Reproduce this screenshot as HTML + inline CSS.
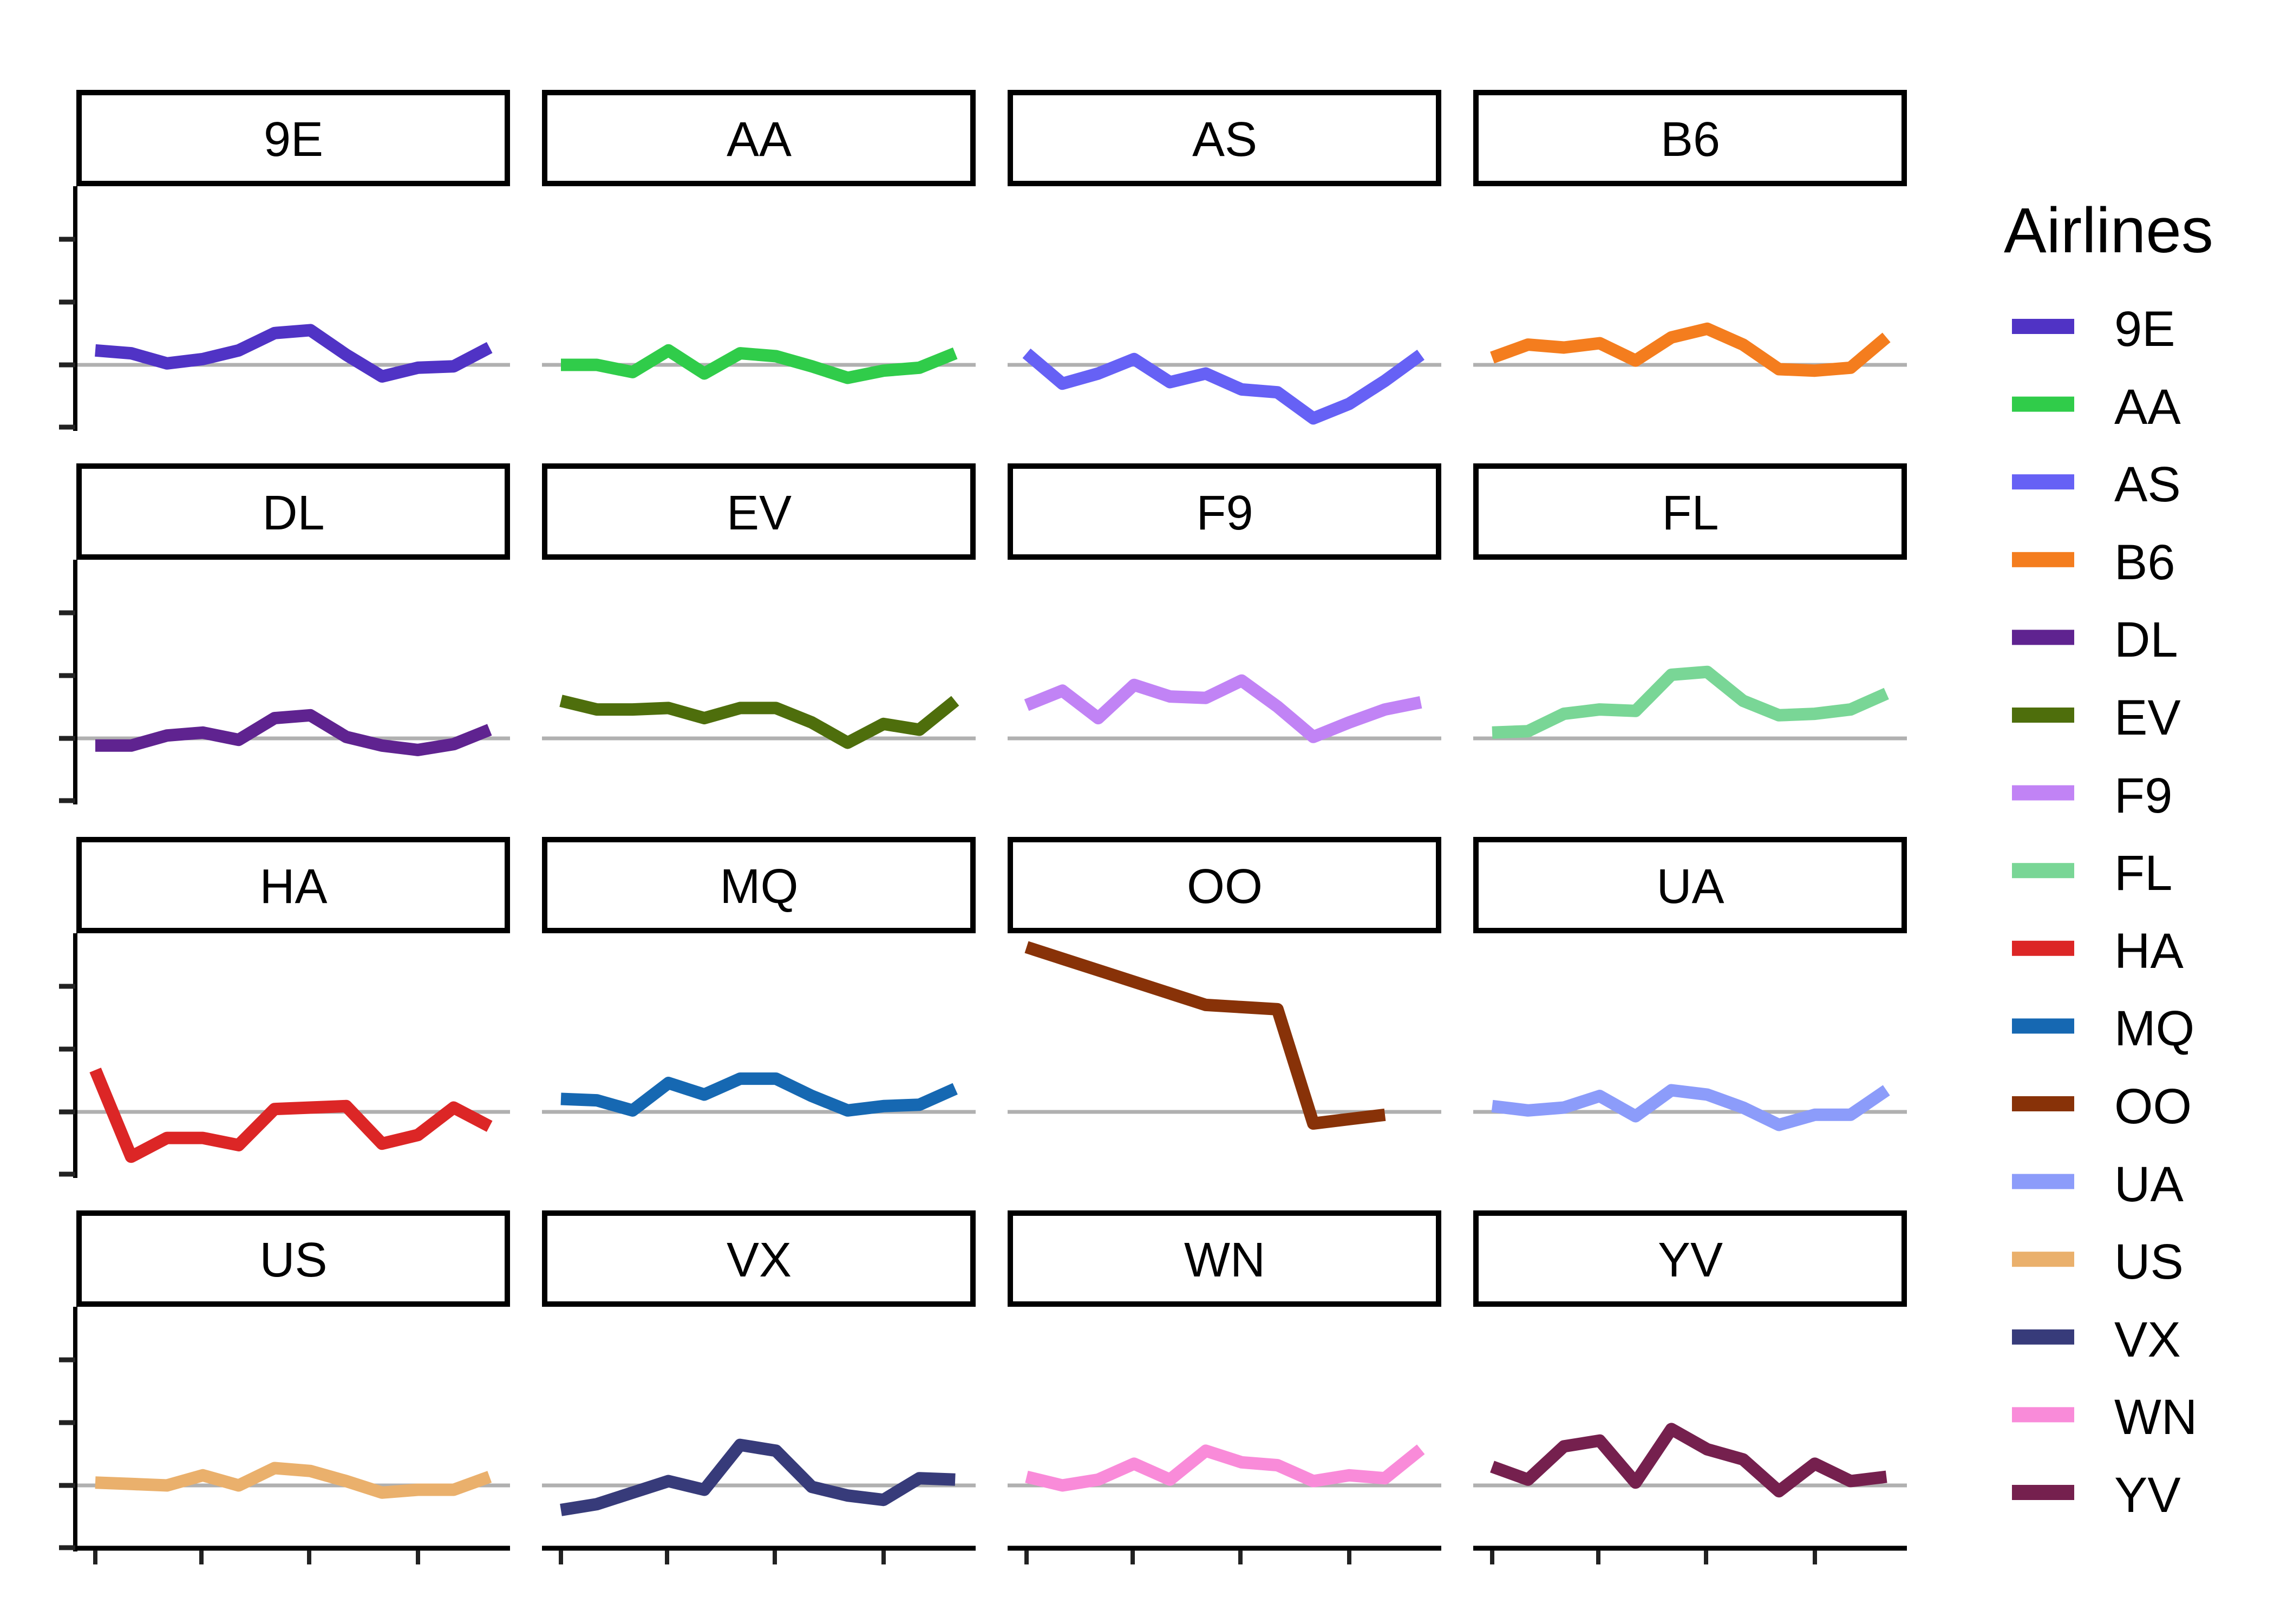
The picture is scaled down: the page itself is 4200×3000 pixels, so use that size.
<!DOCTYPE html>
<html><head><meta charset="utf-8"><style>html,body{margin:0;padding:0;background:#fff}svg{display:block}text{font-family:"Liberation Sans",Arial,sans-serif;fill:#000}</style></head>
<body>
<svg id="s" width="4200" height="3000" viewBox="0 0 4200 3000" xmlns="http://www.w3.org/2000/svg">
<rect width="4200" height="3000" fill="#fff"/>
<g id="g"></g>
<g font-size="90" text-anchor="middle">
<text x="542" y="288">9E</text><text x="1402" y="288">AA</text><text x="2262" y="288">AS</text><text x="3122" y="288">B6</text>
<text x="542" y="978">DL</text><text x="1402" y="978">EV</text><text x="2262" y="978">F9</text><text x="3122" y="978">FL</text>
<text x="542" y="1668">HA</text><text x="1402" y="1668">MQ</text><text x="2262" y="1668">OO</text><text x="3122" y="1668">UA</text>
<text x="542" y="2358">US</text><text x="1402" y="2358">VX</text><text x="2262" y="2358">WN</text><text x="3122" y="2358">YV</text>
</g>
<text x="3701" y="466" font-size="118">Airlines</text>
<g font-size="92">
<text x="3905" y="639">9E</text><text x="3905" y="783">AA</text><text x="3905" y="926">AS</text><text x="3905" y="1070">B6</text>
<text x="3905" y="1213">DL</text><text x="3905" y="1357">EV</text><text x="3905" y="1501">F9</text><text x="3905" y="1644">FL</text>
<text x="3905" y="1788">HA</text><text x="3905" y="1931">MQ</text><text x="3905" y="2075">OO</text><text x="3905" y="2219">UA</text>
<text x="3905" y="2362">US</text><text x="3905" y="2506">VX</text><text x="3905" y="2649">WN</text><text x="3905" y="2793">YV</text>
</g>
</svg>
<script>
var D=[
["#5033c5",[10,8,1,4,10,22,24,7,-8,-2,-1,12]],
["#30cc4a",[0,0,-5,10,-6,8,6,-1,-9,-4,-2,8]],
["#6661f5",[8,-13,-6,4,-12,-6,-17,-19,-37,-27,-11,7]],
["#f47d1e",[5,14,12,15,3,19,25,14,-3,-4,-2,19]],
["#5f2390",[-5,-5,2,4,-1,14,16,1,-5,-8,-4,6]],
["#4e6e0c",[26,20,20,21,14,21,21,11,-3,10,6,26]],
["#c183f5",[23,33,14,37,29,28,40,22,1,11,20,25]],
["#79d696",[4,5,17,20,19,44,46,26,16,17,20,31]],
["#dc2626",[29,-31,-18,-18,-23,2,3,4,-22,-16,3,-10]],
["#1668b2",[9,8,1,20,12,23,23,11,1,4,5,16]],
["#883208",[114,106,98,90,82,74,72.5,71,-8,-5,-2]],
["#8c9cfa",[4,1,3,11,-3,15,12,3,-9,-2,-2,15]],
["#eab06c",[2,1,0,7,0,12,10,3,-5,-3,-3,6]],
["#373b7a",[-17,-13,-5,3,-3,28,24,-1,-7,-10,5,4]],
["#f98bd9",[6,0,4,15,4,24,16,14,3,7,5,25]],
["#75204e",[13,4,27,31,2,39,25,18,-4,15,3,6]]];
var h='';
for(var i=0;i<16;i++){var r=Math.floor(i/4),c=i%4,L=141+c*860,T=166+r*690,Z=T+508;
h+='<rect x="'+(L+5)+'" y="'+(T+5)+'" width="791" height="168" fill="#fff" stroke="#000" stroke-width="10"/>';
h+='<line x1="'+L+'" x2="'+(L+801)+'" y1="'+Z+'" y2="'+Z+'" stroke="#b0b0b0" stroke-width="7"/>';
if(c==0){h+='<line x1="'+(L-2)+'" x2="'+(L-2)+'" y1="'+(T+178)+'" y2="'+(T+630)+'" stroke="#000" stroke-width="8"/>';
[276,392,508,623].forEach(function(o){h+='<line x1="'+(L-32)+'" x2="'+(L-2)+'" y1="'+(T+o)+'" y2="'+(T+o)+'" stroke="#222" stroke-width="9"/>';});}
if(r==3){h+='<line x1="'+L+'" x2="'+(L+801)+'" y1="2860" y2="2860" stroke="#000" stroke-width="9"/>';
[35,231,430,631].forEach(function(o){h+='<line x1="'+(L+o)+'" x2="'+(L+o)+'" y1="2864" y2="2890" stroke="#222" stroke-width="8"/>';});}
var p=D[i][1].map(function(v,m){return (L+35+m*66.2).toFixed(1)+','+(Z-v*2.67).toFixed(1)}).join(' ');
h+='<polyline points="'+p+'" fill="none" stroke="'+D[i][0]+'" stroke-width="23" stroke-linejoin="round"/>';
h+='<rect x="3716" y="'+(589+i*143.6).toFixed(1)+'" width="115" height="28" fill="'+D[i][0]+'"/>';}
document.getElementById('g').innerHTML=h;
</script>
</body></html>
